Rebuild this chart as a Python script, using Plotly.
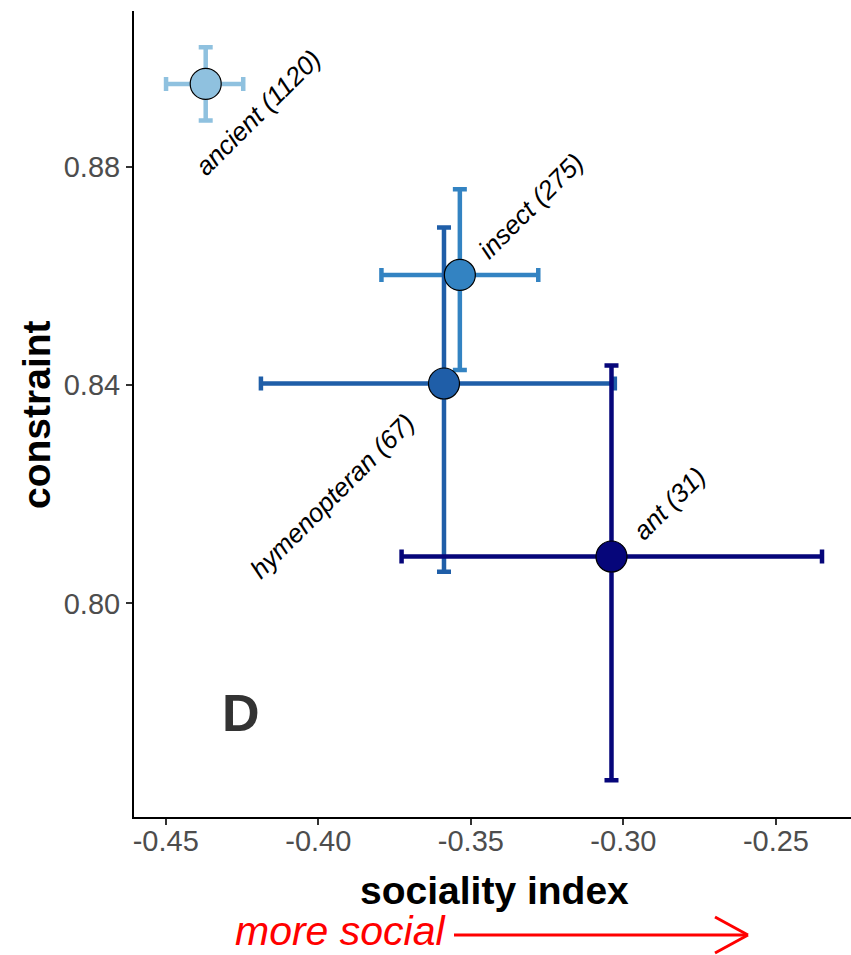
import plotly.graph_objects as go

# ---------------- data ----------------
groups = ["ancient", "insect", "hymenopteran", "ant"]
counts = [1120, 275, 67, 31]
sociality = [-0.4369, -0.3536, -0.3588, -0.3039]
constraint = [0.8952, 0.8602, 0.8403, 0.8086]
x_err_plus = [0.0123, 0.0257, 0.0560, 0.0690]
x_err_minus = [0.0130, 0.0257, 0.0600, 0.0688]
y_err_plus = [0.0067, 0.0157, 0.0286, 0.0350]
y_err_minus = [0.0067, 0.0174, 0.0345, 0.0410]
colors = ["#8fc1df", "#3383c2", "#1f5ea8", "#06067a"]
x_ticks = [-0.45, -0.40, -0.35, -0.30, -0.25]
y_ticks = [0.80, 0.84, 0.88]

# label offsets (px) relative to each point
label_dx = [52, 71, -112, 58]
label_dy = [-29, 69, -112, 54]

# ---------------- layout geometry ----------------
W, H = 851, 955
L, R, T, B = 134, 851, 11, 817
PW, PH = R - L, B - T


def px(xp):
    return (xp - L) / PW


def py(yp):
    return (B - yp) / PH


FONT = "Liberation Sans, Arial, sans-serif"

fig = go.Figure()

for i, g in enumerate(groups):
    fig.add_trace(go.Scatter(
        x=[sociality[i]], y=[constraint[i]], mode="markers",
        marker=dict(size=2, color="rgba(0,0,0,0)"),
        error_x=dict(type="data", symmetric=False, array=[x_err_plus[i]],
                     arrayminus=[x_err_minus[i]], color=colors[i],
                     thickness=4.5, width=7),
        error_y=dict(type="data", symmetric=False, array=[y_err_plus[i]],
                     arrayminus=[y_err_minus[i]], color=colors[i],
                     thickness=4.5, width=7),
        showlegend=False, hoverinfo="skip",
    ))

fig.add_trace(go.Scatter(
    x=sociality, y=constraint, mode="markers",
    marker=dict(size=31, color=colors, line=dict(color="black", width=1.2)),
    showlegend=False,
))

annotations = []
for i, g in enumerate(groups):
    annotations.append(dict(
        x=sociality[i], y=constraint[i], xref="x", yref="y",
        text=f"<i>{g} ({counts[i]})</i>", showarrow=False,
        textangle=-45, xanchor="center", yanchor="middle",
        xshift=label_dx[i], yshift=label_dy[i],
        font=dict(family=FONT, size=26, color="black"),
    ))

annotations += [
    dict(x=px(494), y=py(890), xref="paper", yref="paper",
         text="<b>sociality index</b>", showarrow=False,
         xanchor="center", yanchor="middle",
         font=dict(family=FONT, size=39, color="black")),
    dict(x=px(36), y=py(415), xref="paper", yref="paper",
         text="<b>constraint</b>", showarrow=False, textangle=-90,
         xanchor="center", yanchor="middle",
         font=dict(family=FONT, size=39, color="black")),
    dict(x=px(241), y=py(713), xref="paper", yref="paper",
         text="<b>D</b>", showarrow=False,
         xanchor="center", yanchor="middle",
         font=dict(family=FONT, size=52, color="#333333")),
    dict(x=px(448), y=py(955), xref="paper", yref="paper",
         text="<i>more social</i>", showarrow=False,
         xanchor="right", yanchor="bottom", borderpad=0,
         font=dict(family=FONT, size=41, color="red")),
]

shapes = [
    dict(type="line", xref="paper", yref="paper",
         x0=px(454), y0=py(935), x1=px(747), y1=py(935),
         line=dict(color="red", width=3)),
    dict(type="line", xref="paper", yref="paper",
         x0=px(715), y0=py(917), x1=px(748), y1=py(935),
         line=dict(color="red", width=3)),
    dict(type="line", xref="paper", yref="paper",
         x0=px(715), y0=py(953), x1=px(748), y1=py(935),
         line=dict(color="red", width=3)),
]

fig.update_layout(
    width=W, height=H,
    margin=dict(l=L, r=W - R, t=T, b=H - B),
    plot_bgcolor="white", paper_bgcolor="white",
    annotations=annotations, shapes=shapes,
    font=dict(family=FONT),
)

fig.update_xaxes(
    range=[-0.4604, -0.2254], tickvals=x_ticks,
    ticktext=[f"{v:.2f}" for v in x_ticks],
    showgrid=False, zeroline=False,
    showline=True, linecolor="black", linewidth=2,
    ticks="outside", ticklen=6, tickwidth=2, tickcolor="#333333",
    ticklabelstandoff=-9,
    tickfont=dict(family=FONT, size=29, color="#4d4d4d"),
)
fig.update_yaxes(
    range=[0.76087, 0.90856], tickvals=y_ticks,
    ticktext=[f"{v:.2f}" for v in y_ticks],
    showgrid=False, zeroline=False,
    showline=True, linecolor="black", linewidth=2,
    ticks="outside", ticklen=6, tickwidth=2, tickcolor="#333333",
    tickfont=dict(family=FONT, size=29, color="#4d4d4d"),
)

fig.write_html(
    "out.html",
    config={"displayModeBar": False},
    post_script="document.body.style.margin='0';document.body.style.overflow='hidden';",
)
